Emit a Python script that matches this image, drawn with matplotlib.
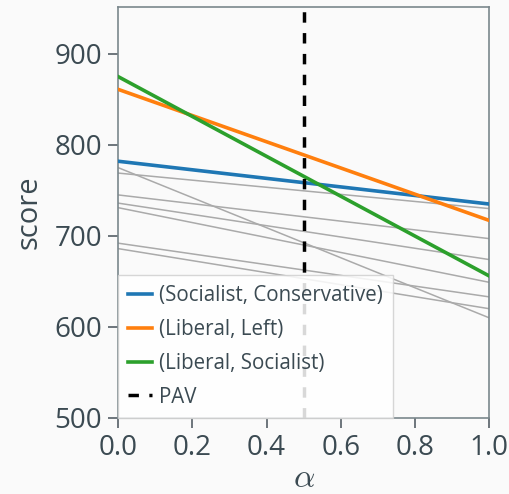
import matplotlib
matplotlib.use("Agg")
import matplotlib.pyplot as plt
import numpy as np

alpha_vals = [0.0, 1.0]
blue_scores = [782, 735]
orange_scores = [861, 717]
green_scores = [875, 656]
gray_starts = [775, 769, 745, 736, 731, 692, 686]
gray_ends = [610, 730, 697, 674, 649, 633, 620]
pav_alpha = 0.5
legend_labels = ["(Socialist, Conservative)", "(Liberal, Left)", "(Liberal, Socialist)", "PAV"]
xticks = [0.0, 0.2, 0.4, 0.6, 0.8, 1.0]
yticks = [500, 600, 700, 800, 900]

txt = "#3b4a52"
plt.rcParams['font.family'] = ['Open Sans', 'DejaVu Sans']
plt.rcParams['mathtext.fontset'] = 'cm'

fig = plt.figure(figsize=(5.09, 4.94), dpi=100, facecolor="#fafafa")
ax = fig.add_axes([0.232, 0.154, 0.729, 0.831])
ax.set_facecolor("#fafafa")

for s, e in zip(gray_starts, gray_ends):
    ax.plot(alpha_vals, [s, e], color="#aaaaaa", lw=1.1, zorder=2)
ax.plot(alpha_vals, blue_scores, color="#1f77b4", lw=2.6, label=legend_labels[0], zorder=3)
ax.plot(alpha_vals, orange_scores, color="#ff7f0e", lw=2.6, label=legend_labels[1], zorder=3)
ax.plot(alpha_vals, green_scores, color="#2ca02c", lw=2.6, label=legend_labels[2], zorder=3)
ax.axvline(pav_alpha, color="black", lw=2.5, ls=(0, (3, 3)), label=legend_labels[3], zorder=3)

ax.set_xlim(0, 1)
ax.set_ylim(500, 951)
ax.set_xticks(xticks)
ax.set_yticks(yticks)
ax.set_xticklabels([f"{v:.1f}" for v in xticks])
ax.tick_params(labelsize=20, colors="#555f66", labelcolor=txt, length=7.5, width=1.2, pad=4)
for sp in ax.spines.values():
    sp.set_color("#7a878c")
    sp.set_linewidth(1.2)
ax.set_ylabel("score", fontsize=21, color=txt, labelpad=8)
ax.set_xlabel(r"$\alpha$", fontsize=24, color=txt, labelpad=0)

leg = ax.legend(loc="lower left", borderaxespad=0, fontsize=14.8, fancybox=False,
                framealpha=0.85, edgecolor="#d0d0d0", handlelength=1.15,
                handletextpad=0.35, labelspacing=0.62, borderpad=0.5)
for t in leg.get_texts():
    t.set_color(txt)
leg.get_frame().set_linewidth(1.0)

fig.savefig("out.png", dpi=100, facecolor=fig.get_facecolor())
